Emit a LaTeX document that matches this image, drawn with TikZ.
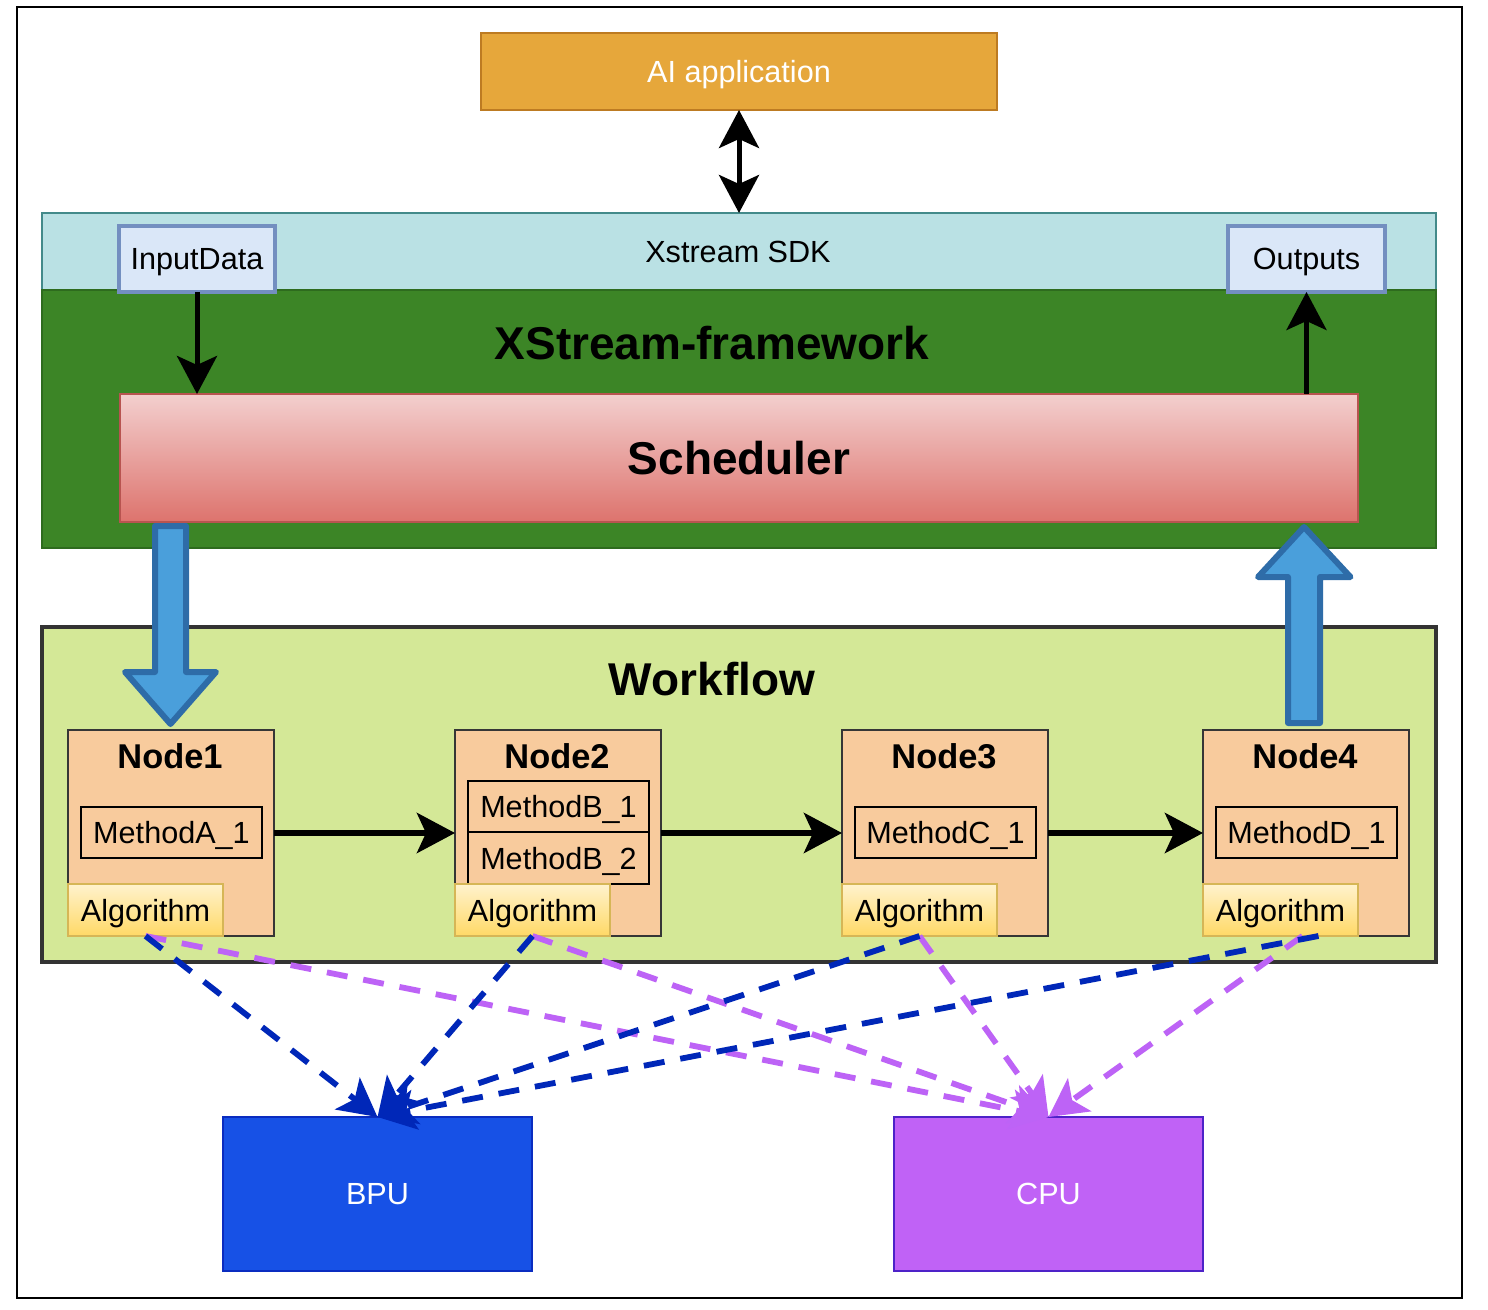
\documentclass[tikz,border=0pt]{standalone}
\usepackage{fontspec}
\setmainfont{Liberation Sans}
\usetikzlibrary{arrows.meta,calc}
\definecolor{aifill}{HTML}{E6A73B}
\definecolor{aistroke}{HTML}{BD7B22}
\definecolor{sdkfill}{HTML}{BAE1E4}
\definecolor{sdkstroke}{HTML}{438A8A}
\definecolor{fwfill}{HTML}{3C8526}
\definecolor{fwstroke}{HTML}{2E6B1E}
\definecolor{iofill}{HTML}{DAE7F8}
\definecolor{iostroke}{HTML}{738FC0}
\definecolor{schtop}{HTML}{F3CFCE}
\definecolor{schbot}{HTML}{DD736D}
\definecolor{schstroke}{HTML}{B85450}
\definecolor{wffill}{HTML}{D4E897}
\definecolor{wfstroke}{HTML}{333333}
\definecolor{ndfill}{HTML}{F8CB9D}
\definecolor{ndstroke}{HTML}{363636}
\definecolor{altop}{HTML}{FFF2CD}
\definecolor{albot}{HTML}{FFD966}
\definecolor{alstroke}{HTML}{D6B656}
\definecolor{bafill}{HTML}{4A9FDB}
\definecolor{bastroke}{HTML}{2E6CA8}
\definecolor{bpufill}{HTML}{1751E6}
\definecolor{bpustroke}{HTML}{0A2CC0}
\definecolor{cpufill}{HTML}{C062F6}
\definecolor{cpustroke}{HTML}{4D22C8}
\definecolor{dblue}{HTML}{0027B8}
\definecolor{dpurple}{HTML}{BD63F6}
\newcommand{\myfs}[1]{\fontsize{#1pt}{#1pt}\selectfont}
\newcommand{\rbox}[7][]{%
  \pgfmathsetmacro\rbw{(#5-#3)*0.5}%
  \pgfmathsetmacro\rbh{(#6-#4)*0.5}%
  \node[rectangle, inner sep=0pt, outer sep=0pt, minimum width=\rbw pt, minimum height=\rbh pt, #1] (#2) at ({(#3+#5)/2},{(#4+#6)/2}) {#7};}
\begin{document}
\begin{tikzpicture}[x=0.5pt,y=-0.5pt,
  every node/.style={font=\myfs{15.3}, text depth=0pt},
  blk/.style={line width=2.5pt, -{Stealth[length=19pt,width=20pt,inset=4.5pt]}},
  dblk/.style={line width=2.5pt, {Stealth[length=19pt,width=20pt,inset=4.5pt]}-{Stealth[length=19pt,width=20pt,inset=4.5pt]}},
  dsh/.style={line width=2.9pt, dash pattern=on 10.5pt off 8pt, -{Stealth[length=19pt,width=20pt,inset=4.5pt]}},
  iobox/.style={draw=iostroke, fill=iofill, line width=2.2pt},
  ndbox/.style={draw=ndstroke, fill=ndfill, line width=1pt},
  mbox/.style={draw=black, fill=ndfill, line width=1pt},
  albox/.style={draw=alstroke, top color=altop, bottom color=albot, line width=1pt},
  ttl/.style={font=\myfs{17.2}\bfseries},
  big/.style={font=\myfs{23}\bfseries},
  barrow/.style={draw=bastroke, fill=bafill, line width=3pt, line join=round}
]
\useasboundingbox (0,0) rectangle (1488,1310);
\fill[white] (0,0) rectangle (1488,1310);
\rbox[draw=black, line width=1pt]{frame}{17}{7}{1462}{1298}{}
% top
\rbox[draw=aistroke, fill=aifill, line width=1pt, text=white]{ai}{481}{33}{997}{110}{AI application}
\rbox[draw=sdkstroke, fill=sdkfill, line width=1pt]{sdk}{42}{213}{1436}{290}{}
\rbox[draw=fwstroke, fill=fwfill, line width=1pt]{fw}{42}{290}{1436}{548}{}
\node (sdkt) at (738,252) {Xstream SDK};
\node[big] (fwt) at (712,343) {XStream-framework};
\rbox[iobox]{inp}{119}{226}{275}{292}{InputData}
\rbox[iobox]{out}{1228}{226}{1385}{292}{Outputs}
\rbox[draw=schstroke, top color=schtop, bottom color=schbot, line width=1pt, big]{sched}{120}{394}{1358}{522}{Scheduler}
% workflow
\rbox[draw=wfstroke, fill=wffill, line width=2pt]{wf}{42}{627}{1436}{962}{}
\node[big] (wft) at (712,679) {Workflow};
\rbox[ndbox]{n1}{68}{730}{274}{936}{}
\rbox[ndbox]{n2}{455}{730}{661}{936}{}
\rbox[ndbox]{n3}{842}{730}{1048}{936}{}
\rbox[ndbox]{n4}{1203}{730}{1409}{936}{}
\node[ttl] (t1) at (170,756) {Node1};
\node[ttl] (t2) at (557,756) {Node2};
\node[ttl] (t3) at (944,756) {Node3};
\node[ttl] (t4) at (1305,756) {Node4};
\rbox[mbox]{ma}{81}{807}{262}{858}{MethodA\_1}
\rbox[mbox]{mb1}{468}{781}{649}{832}{MethodB\_1}
\rbox[mbox]{mb2}{468}{832}{649}{884}{MethodB\_2}
\rbox[mbox]{mc}{855}{807}{1036}{858}{MethodC\_1}
\rbox[mbox]{md}{1216}{807}{1397}{858}{MethodD\_1}
\rbox[albox]{a1}{68}{884}{223}{936}{Algorithm}
\rbox[albox]{a2}{455}{884}{610}{936}{Algorithm}
\rbox[albox]{a3}{842}{884}{997}{936}{Algorithm}
\rbox[albox]{a4}{1203}{884}{1358}{936}{Algorithm}
% bottom
\rbox[draw=bpustroke, fill=bpufill, line width=1pt, text=white]{bpu}{223}{1117}{532}{1271}{BPU}
\rbox[draw=cpustroke, fill=cpufill, line width=1pt, text=white]{cpu}{894}{1117}{1203}{1271}{CPU}
% black arrows
\draw[dblk] (ai.south) -- (ai.south |- sdk.north);
\draw[blk] (inp.south) -- (inp.south |- sched.north);
\draw[blk] (out.south |- sched.north) -- (out.south);
\draw[blk, line width=3pt] (n1.east) -- (n2.west);
\draw[blk, line width=3pt] (n2.east) -- (n3.west);
\draw[blk, line width=3pt] (n3.east) -- (n4.west);
% block arrows
\draw[barrow] (155,526) -- (186,526) -- (186,672) -- (216,672) -- (170.5,724) -- (125,672) -- (155,672) -- cycle;
\draw[barrow] (1288,723) -- (1320,723) -- (1320,577) -- (1350.5,577) -- (1304,527) -- (1258,577) -- (1288,577) -- cycle;
% dashed
\draw[dsh, dpurple] (a1.south) -- (cpu.north);
\draw[dsh, dpurple] (a2.south) -- (cpu.north);
\draw[dsh, dpurple] (a3.south) -- (cpu.north);
\draw[dsh, dpurple] ($(a4.south)+(22,0)$) -- (cpu.north);
\draw[dsh, dblue] (a1.south) -- (bpu.north);
\draw[dsh, dblue] (a2.south) -- (bpu.north);
\draw[dsh, dblue] (a3.south) -- (bpu.north);
\draw[dsh, dblue] ($(a4.south)+(38,0)$) -- (bpu.north);
\end{tikzpicture}
\end{document}
